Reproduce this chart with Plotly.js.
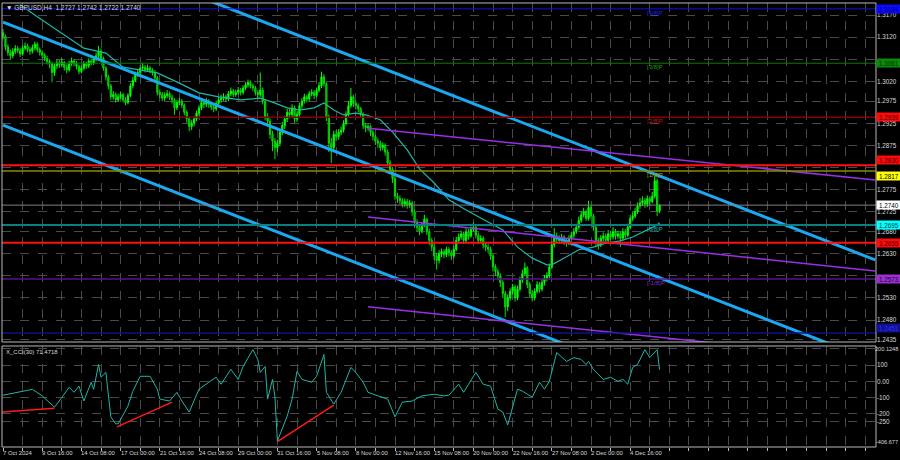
<!DOCTYPE html>
<html><head><meta charset="utf-8">
<script src="https://cdn.plot.ly/plotly-3.0.1.min.js"></script>
<style>html,body{margin:0;padding:0;background:#000;}#chart{width:900px;height:460px;}</style>
</head><body><div id="chart"></div>
<script>
// ---- OHLC data (GBPUSD H4), bar number = x position ----
const openP = [
1.3130,1.3122,1.3098,1.3085,1.3078,1.3088, 1.3094,1.3090,1.3082,1.3095,1.3100,1.3092,
1.3088,1.3096,1.3104,1.3092,1.3085,1.3079, 1.3072,1.3065,1.3060,1.3040,1.3055,1.3062,
1.3058,1.3063,1.3052,1.3046,1.3060,1.3066, 1.3061,1.3054,1.3042,1.3050,1.3060,1.3055,
1.3066,1.3062,1.3070,1.3078,1.3088,1.3072, 1.3050,1.3030,1.3010,1.2985,1.2990,1.2978,
1.2985,1.2990,1.2978,1.2972,1.2988,1.3010, 1.3022,1.3035,1.3040,1.3050,1.3052,1.3046,
1.3050,1.3045,1.3040,1.3028,1.2995,1.2990, 1.2982,1.2988,1.2992,1.2984,1.2978,1.2960,
1.2972,1.2975,1.2966,1.2950,1.2935,1.2918, 1.2925,1.2935,1.2948,1.2960,1.2972,1.2968,
1.2975,1.2968,1.2962,1.2958,1.2970,1.2978, 1.2982,1.2985,1.2980,1.2992,1.2998,1.2990,
1.2995,1.3000,1.2995,1.3005,1.3012,1.3018, 1.3010,1.3005,1.2995,1.2990,1.3000,1.2975,
1.2940,1.2930,1.2900,1.2885,1.2870,1.2880, 1.2905,1.2920,1.2935,1.2950,1.2945,1.2960,
1.2935,1.2945,1.2965,1.2975,1.2985,1.2980, 1.2992,1.2995,1.2988,1.3000,1.3010,1.3030,
1.3015,1.2940,1.2880,1.2870,1.2900,1.2895, 1.2905,1.2910,1.2925,1.2945,1.2965,1.2985,
1.2970,1.2965,1.2958,1.2945,1.2920,1.2915, 1.2918,1.2905,1.2895,1.2885,1.2880,1.2870,
1.2875,1.2860,1.2835,1.2820,1.2800,1.2760, 1.2755,1.2750,1.2742,1.2748,1.2740,1.2745,
1.2725,1.2700,1.2690,1.2682,1.2695,1.2708, 1.2680,1.2660,1.2645,1.2625,1.2615,1.2630,
1.2635,1.2628,1.2640,1.2632,1.2625,1.2640, 1.2660,1.2668,1.2675,1.2660,1.2680,1.2670,
1.2685,1.2690,1.2672,1.2660,1.2665,1.2650, 1.2645,1.2640,1.2625,1.2600,1.2590,1.2580,
1.2565,1.2540,1.2510,1.2530,1.2545,1.2555, 1.2530,1.2550,1.2570,1.2585,1.2598,1.2560,
1.2540,1.2530,1.2545,1.2560,1.2550,1.2565, 1.2575,1.2580,1.2600,1.2650,1.2670,1.2665,
1.2660,1.2668,1.2660,1.2655,1.2665,1.2672, 1.2680,1.2690,1.2705,1.2718,1.2725,1.2710,
1.2735,1.2715,1.2690,1.2660,1.2650,1.2665, 1.2670,1.2660,1.2675,1.2668,1.2680,1.2670,
1.2675,1.2665,1.2680,1.2672,1.2690,1.2710, 1.2715,1.2725,1.2738,1.2745,1.2750,1.2742,
1.2755,1.2748,1.2760,1.2795,1.2727];
const highP = [
1.3138,1.3126,1.3104,1.3092,1.3095,1.3102, 1.3100,1.3096,1.3101,1.3108,1.3105,1.3098,
1.3103,1.3110,1.3108,1.3097,1.3090,1.3084, 1.3078,1.3070,1.3064,1.3060,1.3070,1.3068,
1.3072,1.3066,1.3058,1.3066,1.3074,1.3070, 1.3066,1.3058,1.3056,1.3066,1.3064,1.3072,
1.3071,1.3076,1.3085,1.3100,1.3094,1.3076, 1.3054,1.3035,1.3014,1.2998,1.2995,1.2992,
1.2997,1.2994,1.2984,1.2993,1.3016,1.3030, 1.3042,1.3048,1.3056,1.3062,1.3057,1.3058,
1.3055,1.3050,1.3046,1.3032,1.3002,1.2996, 1.2995,1.3000,1.2997,1.2990,1.2982,1.2978,
1.2983,1.2980,1.2970,1.2955,1.2940,1.2932, 1.2941,1.2954,1.2966,1.2980,1.2978,1.2982,
1.2980,1.2974,1.2968,1.2976,1.2985,1.2990, 1.2993,1.2990,1.2998,1.3006,1.3003,1.3001,
1.3007,1.3005,1.3011,1.3018,1.3024,1.3022, 1.3015,1.3010,1.3000,1.3040,1.3006,1.2980,
1.2948,1.2936,1.2908,1.2892,1.2888,1.2912, 1.2928,1.2942,1.2958,1.2960,1.2968,1.2965,
1.2952,1.2972,1.2982,1.2992,1.2990,1.2998, 1.3002,1.3000,1.3006,1.3018,1.3042,1.3036,
1.3018,1.2945,1.2892,1.2908,1.2910,1.2912, 1.2918,1.2932,1.2952,1.2975,1.3005,1.2990,
1.2976,1.2970,1.2962,1.2950,1.2926,1.2924, 1.2922,1.2910,1.2900,1.2892,1.2886,1.2882,
1.2880,1.2866,1.2842,1.2826,1.2806,1.2768, 1.2762,1.2756,1.2755,1.2754,1.2752,1.2750,
1.2730,1.2708,1.2696,1.2702,1.2718,1.2712, 1.2686,1.2666,1.2652,1.2632,1.2638,1.2642,
1.2640,1.2646,1.2645,1.2638,1.2648,1.2668, 1.2676,1.2682,1.2680,1.2688,1.2686,1.2692,
1.2700,1.2694,1.2678,1.2672,1.2670,1.2656, 1.2652,1.2646,1.2630,1.2606,1.2596,1.2586,
1.2570,1.2546,1.2538,1.2552,1.2562,1.2560, 1.2558,1.2578,1.2594,1.2610,1.2602,1.2566,
1.2548,1.2552,1.2568,1.2566,1.2572,1.2582, 1.2588,1.2608,1.2658,1.2688,1.2678,1.2672,
1.2675,1.2672,1.2666,1.2672,1.2680,1.2688, 1.2698,1.2714,1.2726,1.2734,1.2730,1.2750,
1.2738,1.2720,1.2694,1.2666,1.2672,1.2678, 1.2676,1.2684,1.2682,1.2690,1.2686,1.2682,
1.2680,1.2688,1.2686,1.2698,1.2718,1.2724, 1.2734,1.2746,1.2756,1.2760,1.2756,1.2762,
1.2760,1.2770,1.2805,1.2800,1.2742];
const lowP = [
1.3115,1.3090,1.3078,1.3070,1.3072,1.3082, 1.3084,1.3075,1.3078,1.3090,1.3086,1.3080,
1.3083,1.3090,1.3086,1.3078,1.3072,1.3066, 1.3058,1.3050,1.3018,1.3032,1.3048,1.3050,
1.3052,1.3044,1.3038,1.3042,1.3055,1.3054, 1.3047,1.3036,1.3038,1.3045,1.3048,1.3050,
1.3056,1.3057,1.3065,1.3073,1.3066,1.3044, 1.3022,1.3002,1.2978,1.2979,1.2972,1.2974,
1.2980,1.2972,1.2966,1.2968,1.2984,1.3004, 1.3018,1.3030,1.3034,1.3044,1.3040,1.3041,
1.3038,1.3033,1.3022,1.2988,1.2982,1.2975, 1.2976,1.2982,1.2978,1.2970,1.2944,1.2955,
1.2966,1.2960,1.2943,1.2926,1.2907,1.2910, 1.2918,1.2930,1.2942,1.2955,1.2960,1.2962,
1.2960,1.2955,1.2950,1.2953,1.2965,1.2972, 1.2976,1.2973,1.2975,1.2987,1.2984,1.2985,
1.2990,1.2988,1.2990,1.3000,1.3006,1.3004, 1.2998,1.2988,1.2982,1.2985,1.2968,1.2932,
1.2918,1.2890,1.2862,1.2844,1.2860,1.2874, 1.2898,1.2912,1.2928,1.2936,1.2938,1.2925,
1.2928,1.2940,1.2958,1.2970,1.2972,1.2975, 1.2986,1.2980,1.2984,1.2995,1.3005,1.3008,
1.2930,1.2860,1.2835,1.2862,1.2885,1.2888, 1.2898,1.2904,1.2920,1.2940,1.2960,1.2962,
1.2956,1.2950,1.2938,1.2912,1.2905,1.2908, 1.2896,1.2886,1.2876,1.2870,1.2862,1.2864,
1.2852,1.2828,1.2812,1.2790,1.2752,1.2745, 1.2742,1.2735,1.2736,1.2732,1.2734,1.2716,
1.2690,1.2680,1.2672,1.2676,1.2690,1.2672, 1.2650,1.2636,1.2616,1.2594,1.2608,1.2622,
1.2620,1.2622,1.2624,1.2616,1.2620,1.2636, 1.2654,1.2662,1.2652,1.2655,1.2662,1.2666,
1.2680,1.2665,1.2652,1.2654,1.2642,1.2636, 1.2632,1.2616,1.2590,1.2580,1.2570,1.2555,
1.2530,1.2487,1.2500,1.2524,1.2538,1.2522, 1.2525,1.2545,1.2564,1.2580,1.2552,1.2532,
1.2522,1.2524,1.2540,1.2542,1.2545,1.2558, 1.2568,1.2574,1.2595,1.2644,1.2656,1.2652,
1.2654,1.2650,1.2646,1.2650,1.2660,1.2666, 1.2675,1.2685,1.2700,1.2712,1.2704,1.2705,
1.2708,1.2682,1.2645,1.2640,1.2645,1.2658, 1.2652,1.2655,1.2660,1.2662,1.2662,1.2664,
1.2645,1.2660,1.2664,1.2668,1.2685,1.2704, 1.2710,1.2720,1.2732,1.2738,1.2734,1.2736,
1.2740,1.2744,1.2755,1.2715,1.2722];
const closeP = [
1.3122,1.3098,1.3085,1.3078,1.3088,1.3094, 1.3090,1.3082,1.3095,1.3100,1.3092,1.3088,
1.3096,1.3104,1.3092,1.3085,1.3079,1.3072, 1.3065,1.3060,1.3040,1.3055,1.3062,1.3058,
1.3063,1.3052,1.3046,1.3060,1.3066,1.3061, 1.3054,1.3042,1.3050,1.3060,1.3055,1.3066,
1.3062,1.3070,1.3078,1.3088,1.3072,1.3050, 1.3030,1.3010,1.2985,1.2990,1.2978,1.2985,
1.2990,1.2978,1.2972,1.2988,1.3010,1.3022, 1.3035,1.3040,1.3050,1.3052,1.3046,1.3050,
1.3045,1.3040,1.3028,1.2995,1.2990,1.2982, 1.2988,1.2992,1.2984,1.2978,1.2960,1.2972,
1.2975,1.2966,1.2950,1.2935,1.2918,1.2925, 1.2935,1.2948,1.2960,1.2972,1.2968,1.2975,
1.2968,1.2962,1.2958,1.2970,1.2978,1.2982, 1.2985,1.2980,1.2992,1.2998,1.2990,1.2995,
1.3000,1.2995,1.3005,1.3012,1.3018,1.3010, 1.3005,1.2995,1.2990,1.3000,1.2975,1.2940,
1.2930,1.2900,1.2885,1.2870,1.2880,1.2905, 1.2920,1.2935,1.2950,1.2945,1.2960,1.2935,
1.2945,1.2965,1.2975,1.2985,1.2980,1.2992, 1.2995,1.2988,1.3000,1.3010,1.3030,1.3015,
1.2940,1.2880,1.2870,1.2900,1.2895,1.2905, 1.2910,1.2925,1.2945,1.2965,1.2985,1.2970,
1.2965,1.2958,1.2945,1.2920,1.2915,1.2918, 1.2905,1.2895,1.2885,1.2880,1.2870,1.2875,
1.2860,1.2835,1.2820,1.2800,1.2760,1.2755, 1.2750,1.2742,1.2748,1.2740,1.2745,1.2725,
1.2700,1.2690,1.2682,1.2695,1.2708,1.2680, 1.2660,1.2645,1.2625,1.2615,1.2630,1.2635,
1.2628,1.2640,1.2632,1.2625,1.2640,1.2660, 1.2668,1.2675,1.2660,1.2680,1.2670,1.2685,
1.2690,1.2672,1.2660,1.2665,1.2650,1.2645, 1.2640,1.2625,1.2600,1.2590,1.2580,1.2565,
1.2540,1.2510,1.2530,1.2545,1.2555,1.2530, 1.2550,1.2570,1.2585,1.2598,1.2560,1.2540,
1.2530,1.2545,1.2560,1.2550,1.2565,1.2575, 1.2580,1.2600,1.2650,1.2670,1.2665,1.2660,
1.2668,1.2660,1.2655,1.2665,1.2672,1.2680, 1.2690,1.2705,1.2718,1.2725,1.2710,1.2735,
1.2715,1.2690,1.2660,1.2650,1.2665,1.2670, 1.2660,1.2675,1.2668,1.2680,1.2670,1.2675,
1.2665,1.2680,1.2672,1.2690,1.2710,1.2715, 1.2725,1.2738,1.2745,1.2750,1.2742,1.2755,
1.2748,1.2760,1.2795,1.2727,1.2740];

// moving average (teal) sampled at bars
const maBars = [7,14,33,42,49,56,63,72,80,88,97,105,110,116,121,127,131,135,139,144,148,154,159,165,170,176,182,189,197,204,210,216,222,224,230,235,241,246,252,257,263,267,268];
const maVals = [1.3193,1.3166,1.3095,1.3084,1.3052,1.3046,1.3039,1.3016,1.2994,1.2985,1.2978,1.2982,1.2973,1.2960,1.2955,1.2960,1.2971,1.2955,1.2944,1.2948,1.2944,1.2933,1.2905,1.2865,1.2822,1.2790,1.2752,1.2729,1.2706,1.2684,1.2645,1.2620,1.2605,1.2605,1.2623,1.2639,1.2645,1.2654,1.2659,1.2668,1.2684,1.2695,1.2700];

// regression channels (bar, price endpoints)
const blueChanBars = [0, 356];
const blueUpper = [1.3384, 1.2616];
const blueMiddle = [1.3154, 1.2386];
const blueLower = [1.2921, 1.2152];
const purpleChanBars = [149, 356];
const purpleUpper = [1.2914, 1.2797];
const purpleMiddle = [1.2713, 1.2591];
const purpleLower = [1.2510, 1.2390];

// horizontal levels
const levelPrices = [1.3184, 1.3061, 1.2939, 1.2830, 1.2817, 1.2740, 1.2695, 1.2655, 1.2573, 1.2451];
const levelColors = ['#1010e0', '#0a7a0a', '#8b0000', '#ff1010', '#8a8a00', '#808080', '#0b7f7f', '#ff1010', '#5a1090', '#10108a'];
const levelWidths = [1, 1, 1.5, 2, 1.5, 1, 2, 2, 1.5, 1.5];
const labelBg = ['#0a0aff', '#0a8a0a', '#ff0a0a', '#ff0a0a', '#ffff00', '#ffffff', '#00ffff', '#ff0a0a', '#9a30d0', '#101090'];
const labelText = ['1.3184', '1.3061', '1.2939', '1.2830', '1.2817', '1.2740', '1.2695', '1.2655', '1.2573', '1.2451'];
const labelFont = ['#000080', '#003000', '#400000', '#400000', '#000000', '#000000', '#004040', '#400000', '#200040', '#3030ff'];
const labelAnchor = ['middle', 'middle', 'middle', 'bottom', 'top', 'middle', 'middle', 'middle', 'middle', 'bottom'];

// murrey tags
const murreyPrices = [1.3184, 1.3061, 1.2939, 1.2817, 1.2695, 1.2573];
const murreyTags = ['[4/8]P', '[3/8]P', '[2/8]P', '[1/8]P', '[0/8]P', '[-1/8]P'];
const murreyColors = ['#2020ff', '#10a010', '#d01010', '#b0a000', '#10b0b0', '#8030c0'];

// CCI
const cciBars = [0,8,12,16,21,24,27,29,31,33,36,37,39,40,42,44,46,47,51,53,56,60,63,64,68,71,73,76,80,84,87,89,93,96,98,102,104,105,107,108,110,111,112,116,118,120,122,126,128,131,132,135,138,142,144,147,149,153,157,160,163,167,171,176,180,182,186,188,193,196,199,202,204,206,210,212,216,219,221,223,226,230,233,236,238,239,241,245,248,251,253,255,257,259,262,264,267,268];
const cciVals = [-86,-60,-50,-90,-160,-100,-37,-68,-30,-122,-6,-50,104,25,55,-220,-263,-263,-153,-61,31,31,-49,-110,-122,-68,-122,-190,-49,-6,25,-18,74,12,92,196,135,55,92,-110,12,-98,-370,-215,-110,61,12,-6,31,166,-68,-141,-68,86,55,-6,-68,-90,-110,-220,-129,-122,-90,-80,-90,-86,-18,-68,55,-18,-30,-172,-190,-270,-49,-61,-98,-6,-49,0,178,123,147,135,104,123,74,12,25,0,12,-18,86,104,196,147,196,71.47];
const div1Bars = [-1, 21], div1Vals = [-190, -166];
const div2Bars = [46.5, 69], div2Vals = [-282, -129];
const div3Bars = [112, 135], div3Vals = [-374, -147];

// axes
const priceTicks = [1.3170,1.3120,1.3070,1.3020,1.2975,1.2925,1.2875,1.2825,1.2775,1.2725,1.2680,1.2630,1.2580,1.2530,1.2480,1.2435];
const priceTickText = ['1.3170','1.3120','','1.3020','1.2975','1.2925','1.2875','','1.2775','1.2725','1.2680','1.2630','','1.2530','1.2480','1.2435'];
const cciTicks = [200.1248, 100, 0, -100, -200, -250, -406.677];
const cciTickText = ['', '100', '0.00', '-100', '-200', '-250', ''];
const cciEndLabels = ['200.1248', '-406.677'];
const cciEndValues = [200.1248, -406.677];
const gridBars = [0,8,16,24,32,40,48,56,64,72,80,88,96,104,112,120,128,136,144,152,160,168,176,184,192,200,208,216,224,232,240,248,256,264,272,280,288,296,304,312,320,328,336,344,352];
const dateLabelBars = [0,16,32,48,64,80,96,112,128,144,160,176,192,208,224,240,256];
const dateLabels = ['7 Oct 2024','9 Oct 16:00','14 Oct 08:00','17 Oct 00:00','21 Oct 16:00','24 Oct 08:00','29 Oct 00:00','31 Oct 16:00','5 Nov 08:00','8 Nov 00:00','12 Nov 16:00','15 Nov 08:00','20 Nov 00:00','22 Nov 16:00','27 Nov 08:00','2 Dec 00:00','4 Dec 16:00'];

const barIdx = closeP.map((_, i) => i);
const FONT = 'Liberation Sans, Arial, sans-serif';
const TXT = '#d8d8d8';
const FS = 6.3;

const traces = [
  {type: 'candlestick', x: barIdx, open: openP, high: highP, low: lowP, close: closeP,
   xaxis: 'x', yaxis: 'y', hoverinfo: 'skip', whiskerwidth: 0,
   increasing: {line: {color: '#00ff00', width: 1}, fillcolor: '#00ff00'},
   decreasing: {line: {color: '#00e000', width: 1}, fillcolor: '#0b800b'}},
  {type: 'scatter', mode: 'lines', x: maBars, y: maVals, yaxis: 'y', line: {color: '#1fb5a8', width: 1.2}, hoverinfo: 'skip'},
  {type: 'scatter', mode: 'lines', x: blueChanBars, y: blueUpper, yaxis: 'y', line: {color: '#1aa8f0', width: 3}, hoverinfo: 'skip'},
  {type: 'scatter', mode: 'lines', x: blueChanBars, y: blueMiddle, yaxis: 'y', line: {color: '#1aa8f0', width: 3}, hoverinfo: 'skip'},
  {type: 'scatter', mode: 'lines', x: blueChanBars, y: blueLower, yaxis: 'y', line: {color: '#1aa8f0', width: 3}, hoverinfo: 'skip'},
  {type: 'scatter', mode: 'lines', x: purpleChanBars, y: purpleUpper, yaxis: 'y', line: {color: '#9a2fe6', width: 1.5}, hoverinfo: 'skip'},
  {type: 'scatter', mode: 'lines', x: purpleChanBars, y: purpleMiddle, yaxis: 'y', line: {color: '#9a2fe6', width: 1.5}, hoverinfo: 'skip'},
  {type: 'scatter', mode: 'lines', x: purpleChanBars, y: purpleLower, yaxis: 'y', line: {color: '#9a2fe6', width: 1.5}, hoverinfo: 'skip'},
  {type: 'scatter', mode: 'lines', x: cciBars, y: cciVals, yaxis: 'y2', line: {color: '#1fb5a8', width: 1}, hoverinfo: 'skip'},
  {type: 'scatter', mode: 'lines', x: div1Bars, y: div1Vals, yaxis: 'y2', line: {color: '#ff1a1a', width: 1.5}, hoverinfo: 'skip'},
  {type: 'scatter', mode: 'lines', x: div2Bars, y: div2Vals, yaxis: 'y2', line: {color: '#ff1a1a', width: 1.5}, hoverinfo: 'skip'},
  {type: 'scatter', mode: 'lines', x: div3Bars, y: div3Vals, yaxis: 'y2', line: {color: '#ff1a1a', width: 1.5}, hoverinfo: 'skip'}
];

const shapes = [];
levelPrices.forEach((p, i) => shapes.push({type: 'line', xref: 'paper', x0: 0, x1: 1, yref: 'y', y0: p, y1: p,
  line: {color: levelColors[i], width: levelWidths[i]}, layer: 'above'}));
shapes.push({type: 'rect', xref: 'paper', yref: 'paper', x0: 0, x1: 1, y0: 0.2365, y1: 1, line: {color: '#b8b8b8', width: 1}, fillcolor: 'rgba(0,0,0,0)', layer: 'above'});
shapes.push({type: 'rect', xref: 'paper', yref: 'paper', x0: 0, x1: 1, y0: 0, y1: 0.2275, line: {color: '#b8b8b8', width: 1}, fillcolor: 'rgba(0,0,0,0)', layer: 'above'});

const annotations = [];
levelPrices.forEach((p, i) => annotations.push({xref: 'paper', x: 1, xanchor: 'left', yref: 'y', y: p, yanchor: labelAnchor[i],
  text: labelText[i], showarrow: false, bgcolor: labelBg[i], borderpad: 0, width: 24, height: 8, align: 'center',
  font: {family: FONT, size: FS, color: labelFont[i]}}));
murreyPrices.forEach((p, i) => annotations.push({xref: 'x', x: 262, xanchor: 'left', yref: 'y', y: p, yanchor: 'top', yshift: 1,
  text: murreyTags[i], showarrow: false, font: {family: FONT, size: 6, color: murreyColors[i]}}));
dateLabelBars.forEach((b, i) => annotations.push({xref: 'x', x: b, xanchor: 'left', xshift: -2, yref: 'paper', y: 0, yanchor: 'top', yshift: -1,
  text: dateLabels[i], showarrow: false, font: {family: FONT, size: 5.9, color: TXT}}));
cciEndValues.forEach((v, i) => annotations.push({xref: 'paper', x: 1, xanchor: 'right', xshift: 24, yref: 'y2', y: v,
  yanchor: i === 0 ? 'middle' : 'bottom', text: cciEndLabels[i], showarrow: false, font: {family: FONT, size: 5.6, color: TXT}}));
annotations.push({xref: 'paper', x: 0, xanchor: 'left', xshift: 2, yref: 'paper', y: 1, yanchor: 'top', yshift: 1,
  text: '\u25BC GBPUSD,H4  1.2727 1.2742 1.2722 1.2740', showarrow: false, font: {family: FONT, size: 6.5, color: TXT}});
annotations.push({xref: 'paper', x: 0, xanchor: 'left', xshift: 2, yref: 'paper', y: 0.2275, yanchor: 'top', yshift: -1,
  text: 'X_CCI(30) 71.4718', showarrow: false, font: {family: FONT, size: 6, color: TXT}});

const layout = {
  width: 900, height: 460,
  paper_bgcolor: '#000', plot_bgcolor: '#000',
  margin: {l: 2, r: 24, t: 3, b: 13},
  showlegend: false,
  font: {family: FONT, size: FS, color: TXT},
  xaxis: {range: [-0.41, 356.33], anchor: 'y2', rangeslider: {visible: false}, showticklabels: false,
    tickmode: 'array', tickvals: gridBars, ticks: 'outside', ticklen: 3, tickcolor: '#b8b8b8',
    showgrid: true, gridcolor: '#4a4a4a', griddash: 'dash', gridwidth: 1, zeroline: false, showline: false, fixedrange: true},
  yaxis: {domain: [0.2365, 1], range: [1.24304, 1.31972], side: 'right', anchor: 'x',
    tickmode: 'array', tickvals: priceTicks, ticktext: priceTickText, ticks: '',
    showgrid: true, gridcolor: '#4a4a4a', griddash: 'dash', zeroline: false, showline: false,
    tickfont: {family: FONT, size: FS, color: TXT}},
  yaxis2: {domain: [0, 0.2275], range: [-406.677, 218.7], side: 'right', anchor: 'x',
    tickmode: 'array', tickvals: cciTicks, ticktext: cciTickText, ticks: '',
    showgrid: true, gridcolor: '#4a4a4a', griddash: 'dash', zeroline: false, showline: false,
    tickfont: {family: FONT, size: FS, color: TXT}},
  shapes: shapes,
  annotations: annotations
};

Plotly.newPlot('chart', traces, layout, {staticPlot: true, displayModeBar: false});
</script>
</body></html>
